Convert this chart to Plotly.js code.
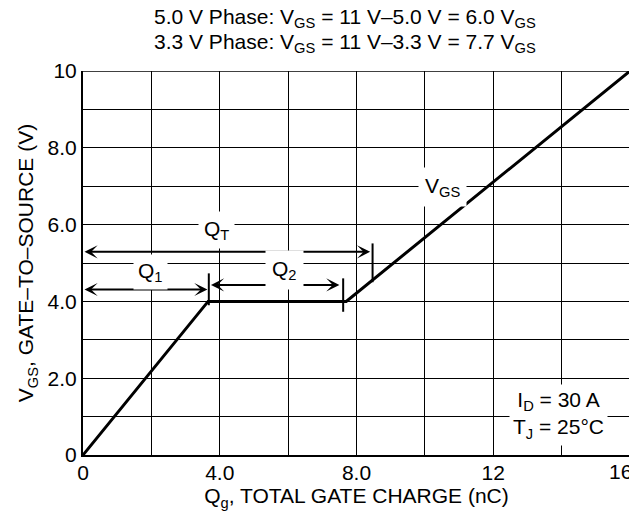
<!DOCTYPE html>
<html>
<head>
<meta charset="utf-8">
<script src="https://cdn.plot.ly/plotly-3.0.1.min.js"></script>
<style>
html,body{margin:0;padding:0;overflow:hidden;background:#fff;}
#chart{width:632px;height:512px;}
</style>
</head>
<body>
<div id="chart"></div>
<script>
// Gate charge curve
const qg = [0, 3.66, 7.7, 16];
const vgs = [0, 4.0, 4.0, 10];

// axis ticks (the last x label, "16", is drawn separately so it can sit left of its tick like the reference)
const xTickVals = [0, 2, 4, 6, 8, 10, 12, 14, 16];
const xTickText = ["0", "", "4.0", "", "8.0", "", "12", "", ""];
const xLastTick = [16, "16"];
const yTickVals = [0, 1, 2, 3, 4, 5, 6, 7, 8, 9, 10];
const yTickText = ["0", "", "2.0", "", "4.0", "", "6.0", "", "8.0", "", "10"];

// dimension arrows: [xStart, xEnd, y]
const arrowQT = [0, 8.4, 5.29];
const arrowQ1 = [0, 3.64, 4.31];
const arrowQ2 = [3.7, 7.5, 4.43];

// vertical marker ticks: [x, y0, y1]
const markQT = [8.47, 5.51, 4.5];
const markQ1 = [3.68, 4.73, 3.9];
const markQ2 = [7.61, 4.6, 3.73];

// labels: [x, y, text]
const labelQT = [3.9, 5.86, "Q<sub>T</sub>"];
const labelQ1 = [1.96, 4.77, "Q<sub>1</sub>"];
const labelQ2 = [5.9, 4.82, "Q<sub>2</sub>"];
const labelVGS = [10.53, 6.99, "V<sub>GS</sub>"];
const labelCond = [13.9, 1.04, "I<sub>D</sub> = 30 A<br>T<sub>J</sub> = 25°C"];

const titleLines = [
  "5.0 V Phase: V<sub>GS</sub> = 11 V–5.0 V = 6.0 V<sub>GS</sub>",
  "3.3 V Phase: V<sub>GS</sub> = 11 V–3.3 V = 7.7 V<sub>GS</sub>"
];

const FONT = "Liberation Sans, Arial, Helvetica, sans-serif";
const FS = 21;

const trace = {
  x: qg, y: vgs, type: "scatter", mode: "lines",
  line: {color: "#000", width: 3}, hoverinfo: "skip"
};

function arrowAnn(a) {
  return {
    x: a[1], y: a[2], ax: a[0], ay: a[2], xref: "x", yref: "y", axref: "x", ayref: "y",
    text: "", showarrow: true, arrowhead: 3, arrowside: "end+start",
    arrowsize: 1.1, arrowwidth: 2, arrowcolor: "#000", standoff: 0, startstandoff: 0
  };
}
function markShape(m) {
  return {type: "line", xref: "x", yref: "y", x0: m[0], x1: m[0], y0: m[1], y1: m[2],
          line: {color: "#000", width: 2}, layer: "above"};
}
function labelAnn(l, pad) {
  return {x: l[0], y: l[1], xref: "x", yref: "y", text: l[2], showarrow: false,
          font: {family: FONT, size: FS, color: "#000"}, bgcolor: "#fff", borderpad: pad || 3,
          xanchor: "center", yanchor: "middle"};
}

const annotations = [
  arrowAnn(arrowQT), arrowAnn(arrowQ1), arrowAnn(arrowQ2),
  labelAnn(labelQT, 5), labelAnn(labelQ1, 4), labelAnn(labelQ2, 6), labelAnn(labelVGS, 6),
  labelAnn(labelCond, 3),
  {x: 0.5, y: 18, xref: "paper", yref: "paper", text: titleLines[0], showarrow: false,
   font: {family: FONT, size: FS, color: "#000"}, yanchor: "middle"},
  {x: 0.5, y: 43, xref: "paper", yref: "paper", text: titleLines[1], showarrow: false,
   font: {family: FONT, size: FS, color: "#000"}, yanchor: "middle"},
  {x: xLastTick[0], y: 0, xref: "x", yref: "y", text: xLastTick[1], showarrow: false,
   font: {family: FONT, size: FS, color: "#000"}, xanchor: "center", yanchor: "middle",
   xshift: -10, yshift: -16}
];
const layout = {
  width: 632, height: 512,
  margin: {l: 83, r: 2, t: 71, b: 57},
  paper_bgcolor: "#fff", plot_bgcolor: "#fff",
  showlegend: false,
  font: {family: FONT, size: FS, color: "#000"},
  xaxis: {
    range: [0, 16], tickvals: xTickVals, ticktext: xTickText, ticks: "",
    showgrid: true, gridcolor: "#000", gridwidth: 1, zeroline: false,
    showline: true, linecolor: "#000", linewidth: 2, ticklabeloverflow: "allow",
    ticklabelstandoff: -2,
    tickfont: {family: FONT, size: FS, color: "#000"},
    title: {text: "Q<sub>g</sub>, TOTAL GATE CHARGE (nC)", font: {family: FONT, size: FS, color: "#000"}, standoff: 2},
    automargin: false, fixedrange: true
  },
  yaxis: {
    range: [0, 10], tickvals: yTickVals, ticktext: yTickText, ticks: "",
    showgrid: true, gridcolor: "#000", gridwidth: 1, zeroline: false,
    showline: true, linecolor: "#000", linewidth: 2, ticklabeloverflow: "allow",
    tickfont: {family: FONT, size: FS, color: "#000"},
    title: {text: "V<sub>GS</sub>, GATE–TO–SOURCE (V)", font: {family: FONT, size: FS, color: "#000"}, standoff: 8},
    automargin: false, fixedrange: true
  },
  shapes: [
    markShape(markQT), markShape(markQ1), markShape(markQ2),
    {type: "line", xref: "paper", yref: "y", x0: 0, x1: 1, y0: 10, y1: 10, line: {color: "#000", width: 1.5}}
  ],
  annotations: annotations
};
// title rows in pixels -> paper coords
const plotH = layout.height - layout.margin.t - layout.margin.b;
const plotW = layout.width - layout.margin.l - layout.margin.r;
function pyToPaper(py) { return (layout.height - layout.margin.b - py) / plotH; }
function pxToPaper(px) { return (px - layout.margin.l) / plotW; }
annotations[8].y = pyToPaper(18); annotations[8].x = pxToPaper(345);
annotations[9].y = pyToPaper(43); annotations[9].x = pxToPaper(345);

Plotly.newPlot("chart", [trace], layout, {staticPlot: true, displayModeBar: false});
</script>
</body>
</html>
